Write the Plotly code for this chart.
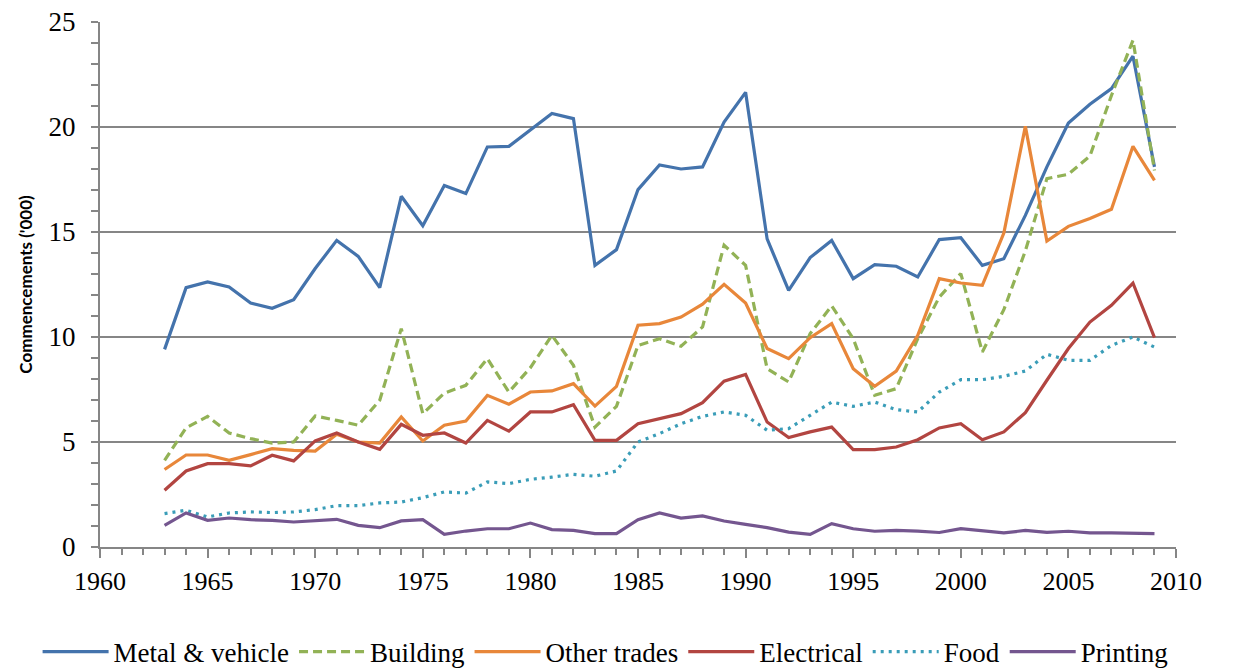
import plotly.graph_objects as go

years = list(range(1963, 2010))

metal_vehicle = [9.41, 12.35, 12.62, 12.38, 11.62, 11.37, 11.78, 13.26, 14.6, 13.84,
                 12.35, 16.7, 15.3, 17.22, 16.83, 19.05, 19.08, 19.87, 20.64, 20.4,
                 13.41, 14.16, 17.02, 18.19, 18.0, 18.1, 20.24, 21.65, 14.67, 12.22,
                 13.78, 14.6, 12.78, 13.45, 13.37, 12.86, 14.64, 14.73, 13.41, 13.73,
                 15.79, 18.1, 20.19, 21.08, 21.83, 23.37, 18.1]

building = [4.13, 5.67, 6.22, 5.43, 5.16, 4.95, 5.0, 6.24, 6.03, 5.8,
            6.99, 10.4, 6.35, 7.33, 7.7, 8.97, 7.38, 8.54, 10.08, 8.65,
            5.71, 6.7, 9.6, 9.92, 9.56, 10.48, 14.37, 13.41, 8.49, 7.86,
            10.16, 11.48, 9.92, 7.22, 7.54, 9.92, 11.9, 13.02, 9.29, 11.3,
            14.1, 17.54, 17.75, 18.62, 21.5, 24.13, 17.93]

other_trades = [3.69, 4.38, 4.38, 4.13, 4.4, 4.68, 4.6, 4.57, 5.37, 5.0,
                4.95, 6.19, 5.05, 5.8, 6.0, 7.22, 6.8, 7.38, 7.43, 7.78,
                6.71, 7.65, 10.56, 10.64, 10.95, 11.56, 12.51, 11.62, 9.45, 8.97,
                9.97, 10.64, 8.49, 7.65, 8.38, 10.08, 12.78, 12.57, 12.46, 14.95,
                20.03, 14.57, 15.27, 15.64, 16.08, 19.08, 17.46]

electrical = [2.7, 3.62, 3.97, 3.97, 3.86, 4.37, 4.1, 5.05, 5.43, 5.0,
              4.65, 5.84, 5.32, 5.43, 4.95, 6.03, 5.52, 6.43, 6.43, 6.78,
              5.08, 5.08, 5.87, 6.11, 6.35, 6.87, 7.9, 8.22, 5.95, 5.21,
              5.48, 5.71, 4.64, 4.64, 4.76, 5.11, 5.67, 5.87, 5.11, 5.48,
              6.4, 7.94, 9.45, 10.71, 11.51, 12.57, 9.97]

food = [1.59, 1.75, 1.43, 1.62, 1.67, 1.64, 1.67, 1.78, 1.97, 1.97,
        2.1, 2.14, 2.35, 2.62, 2.57, 3.1, 3.02, 3.22, 3.33, 3.46,
        3.37, 3.62, 5.0, 5.4, 5.87, 6.22, 6.43, 6.27, 5.56, 5.64,
        6.27, 6.9, 6.7, 6.9, 6.54, 6.43, 7.38, 7.97, 7.97, 8.13,
        8.38, 9.18, 8.89, 8.89, 9.6, 10.0, 9.52]

printing = [1.03, 1.62, 1.27, 1.38, 1.3, 1.27, 1.19, 1.24, 1.32, 1.03,
            0.92, 1.24, 1.3, 0.6, 0.76, 0.87, 0.87, 1.14, 0.83, 0.79,
            0.64, 0.64, 1.3, 1.62, 1.38, 1.48, 1.24, 1.08, 0.92, 0.71,
            0.6, 1.11, 0.87, 0.75, 0.79, 0.76, 0.69, 0.87, 0.76, 0.67,
            0.79, 0.7, 0.75, 0.67, 0.67, 0.64, 0.64]

series = [
    ("Metal & vehicle", metal_vehicle, "#4473AC", "solid"),
    ("Building", building, "#92B256", "9px,5px"),
    ("Other trades", other_trades, "#E8873A", "solid"),
    ("Electrical", electrical, "#B24541", "solid"),
    ("Food", food, "#3A9DB8", "3px,5px"),
    ("Printing", printing, "#74568F", "solid"),
]

x_tick_vals = list(range(1960, 2011, 5))
x_tick_text = [str(v) for v in x_tick_vals]
y_tick_vals = [0, 5, 10, 15, 20, 25]
y_tick_text = [str(v) for v in y_tick_vals]

fig = go.Figure()
for name, vals, color, dash in series:
    fig.add_trace(go.Scatter(
        x=years, y=vals, name=name, mode="lines",
        line=dict(color=color, width=3.2, dash=dash),
    ))

axis_gray = "#868686"
serif = "Liberation Serif"

fig.update_layout(
    width=1236, height=668,
    margin=dict(l=100, r=60, t=22, b=121, autoexpand=False),
    paper_bgcolor="white", plot_bgcolor="white",
    font=dict(family=serif, size=26, color="black"),
    showlegend=True,
    legend=dict(
        orientation="h", xref="paper", yref="paper",
        x=-0.058, xanchor="left", y=-0.2, yanchor="middle",
        font=dict(family=serif, size=27, color="black"),
        itemwidth=66, tracegroupgap=0,
        bgcolor="rgba(0,0,0,0)",
    ),
    xaxis=dict(
        range=[1960, 2010],
        tickmode="array", tickvals=x_tick_vals, ticktext=x_tick_text,
        ticks="outside", ticklen=9, tickwidth=2, tickcolor=axis_gray,
        minor=dict(dtick=1, ticks="outside", ticklen=6, tickwidth=2,
                   tickcolor=axis_gray, showgrid=False),
        showline=True, linecolor=axis_gray, linewidth=2,
        showgrid=False, zeroline=False,
        tickfont=dict(family=serif, size=26, color="black"),
        ticklabelstandoff=1,
        automargin=False,
    ),
    yaxis=dict(
        range=[0, 25],
        tickmode="array", tickvals=y_tick_vals, ticktext=y_tick_text,
        ticks="outside", ticklen=7, tickwidth=2, tickcolor=axis_gray,
        minor=dict(dtick=1, ticks="outside", ticklen=7, tickwidth=2,
                   tickcolor=axis_gray, showgrid=False),
        showline=True, linecolor=axis_gray, linewidth=2,
        showgrid=True, gridcolor=axis_gray, gridwidth=2,
        zeroline=False,
        tickfont=dict(family=serif, size=27, color="black"),
        ticklabelstandoff=10,
        automargin=False,
        title=dict(text="Commencements ('000)",
                   font=dict(family="Lato", size=17, color="black", weight="bold"),
                   standoff=12),
    ),
)

fig.write_html(
    "out.html",
    config={"displayModeBar": False},
    post_script="document.body.style.margin='0';document.body.style.padding='0';"
                "document.documentElement.style.overflow='hidden';",
)
